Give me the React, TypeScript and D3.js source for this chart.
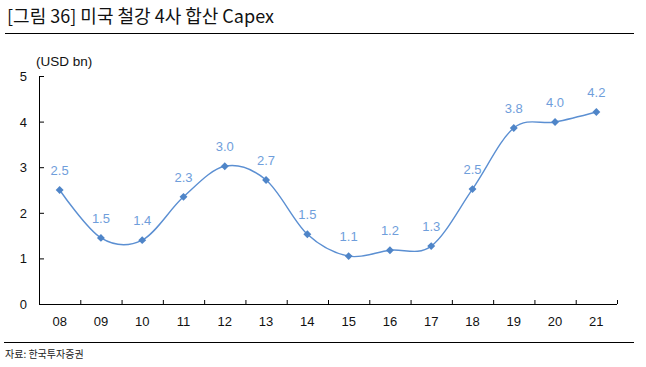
import React from "react";
import * as d3 from "d3";

const years = ["08", "09", "10", "11", "12", "13", "14", "15", "16", "17", "18", "19", "20", "21"];
const capex = [2.5, 1.45, 1.4, 2.35, 3.02, 2.72, 1.53, 1.05, 1.18, 1.27, 2.52, 3.86, 3.99, 4.21];
const labels = ["2.5", "1.5", "1.4", "2.3", "3.0", "2.7", "1.5", "1.1", "1.2", "1.3", "2.5", "3.8", "4.0", "4.2"];
const yTicks = [0, 1, 2, 3, 4, 5];

const W = 646;
const H = 367;
const font = "'Liberation Sans', Arial, sans-serif";
const kfont = "'Noto Sans CJK KR', 'Liberation Sans', sans-serif";

const App = () => {
  const x = d3.scaleBand().domain(years).range([39, 617]);
  const y = d3.scaleLinear().domain([0, 5]).range([304, 76]);
  const cx = (d: string) => (x(d) as number) + x.bandwidth() / 2;

  const line = d3
    .line<number>()
    .x((d, i) => cx(years[i]))
    .y((d) => y(d))
    .curve(d3.curveCardinal.tension(0));

  const diamond = d3.symbol().type(d3.symbolDiamond2).size(40)();
  const tickXs = years.map((d) => (x(d) as number) + x.bandwidth());

  return (
    <svg width={W} height={H} style={{ position: "absolute", left: 0, top: 0 }}>
      <rect width={W} height={H} fill="#fff" />
      <text x={7} y={23} fontFamily={kfont} fontSize={18} fill="#111">
        [그림 36] 미국 철강 4사 합산 Capex
      </text>
      <line x1={5} x2={634} y1={33.5} y2={33.5} stroke="#000" strokeWidth={1.2} />

      <text x={36} y={66} fontFamily={font} fontSize={13.5} fill="#111">
        (USD bn)
      </text>

      {/* y axis */}
      <line x1={39.5} x2={39.5} y1={y(5)} y2={y(0)} stroke="#000" />
      {yTicks.map((t) => (
        <g key={t}>
          <line x1={39.5} x2={44} y1={y(t) + 0.5} y2={y(t) + 0.5} stroke="#000" />
          <text x={27} y={y(t) + 5} textAnchor="end" fontFamily={font} fontSize={13} fill="#111">
            {t}
          </text>
        </g>
      ))}

      {/* x axis */}
      <line x1={39} x2={617} y1={y(0) + 0.5} y2={y(0) + 0.5} stroke="#000" />
      {tickXs.map((t, i) => (
        <line key={i} x1={t + 0.5} x2={t + 0.5} y1={y(0)} y2={y(0) - 4} stroke="#000" />
      ))}
      {years.map((d) => (
        <text key={d} x={cx(d)} y={326} textAnchor="middle" fontFamily={font} fontSize={13} fill="#111">
          {d}
        </text>
      ))}

      <path d={line(capex) as string} fill="none" stroke="#5b8fd2" strokeWidth={1.4} />
      {capex.map((v, i) => (
        <path key={i} d={diamond as string} transform={`translate(${cx(years[i])},${y(v)})`} fill="#4f85c8" />
      ))}
      {capex.map((v, i) => (
        <text
          key={i}
          x={cx(years[i])}
          y={y(v) - 15}
          textAnchor="middle"
          fontFamily={font}
          fontSize={13}
          fill="#6f9edb"
        >
          {labels[i]}
        </text>
      ))}

      <line x1={4} x2={634} y1={342.5} y2={342.5} stroke="#000" strokeWidth={1.2} />
      <text x={5} y={358} fontFamily={kfont} fontSize={10} fill="#222">
        자료: 한국투자증권
      </text>
    </svg>
  );
};

export default App;
